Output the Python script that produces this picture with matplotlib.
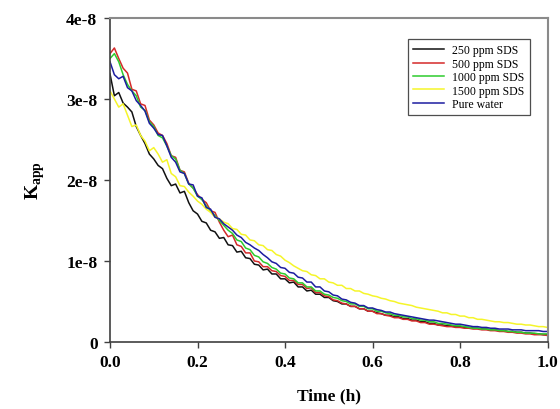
# Apparent rate constant vs time for SDS solutions and pure water

import matplotlib as mpl
mpl.use("Agg")
import matplotlib.pyplot as plt
from matplotlib.ticker import FuncFormatter, MultipleLocator
import numpy as np

mpl.rcParams.update({
    "font.family": "Liberation Serif",
    "mathtext.fontset": "custom",
    "mathtext.rm": "Liberation Serif",
    "mathtext.bf": "Liberation Serif:bold",
})

# time grid, h (step 0.01)
time_h = np.round(np.arange(0, 101) * 0.01, 2)

# K_app values in units of 1e-8
k_250 = [
    3.31, 3.04, 3.08, 2.95, 2.90, 2.84, 2.66, 2.55, 2.45, 2.32,
    2.26, 2.18, 2.14, 2.02, 1.93, 1.95, 1.84, 1.86, 1.72, 1.62,
    1.58, 1.49, 1.47, 1.38, 1.36, 1.28, 1.29, 1.20, 1.19, 1.11,
    1.12, 1.04, 1.03, 0.96, 0.95, 0.89, 0.90, 0.84, 0.84, 0.78,
    0.78, 0.73, 0.74, 0.68, 0.68, 0.63, 0.64, 0.59, 0.59, 0.55,
    0.55, 0.51, 0.50, 0.47, 0.47, 0.44, 0.44, 0.41, 0.41, 0.38,
    0.38, 0.36, 0.35, 0.33, 0.33, 0.31, 0.31, 0.29, 0.29, 0.27,
    0.27, 0.25, 0.25, 0.23, 0.23, 0.21, 0.21, 0.20, 0.20, 0.19,
    0.19, 0.18, 0.18, 0.17, 0.17, 0.16, 0.16, 0.15, 0.15, 0.14,
    0.14, 0.13, 0.13, 0.12, 0.12, 0.11, 0.11, 0.10, 0.10, 0.09,
    0.09,
]
k_500 = [
    3.56, 3.63, 3.50, 3.38, 3.32, 3.12, 3.10, 2.94, 2.92, 2.74,
    2.68, 2.58, 2.55, 2.45, 2.30, 2.28, 2.12, 2.10, 1.96, 1.90,
    1.82, 1.76, 1.72, 1.62, 1.60, 1.48, 1.38, 1.30, 1.32, 1.20,
    1.18, 1.10, 1.10, 1.00, 0.99, 0.93, 0.93, 0.88, 0.87, 0.82,
    0.81, 0.76, 0.76, 0.71, 0.71, 0.66, 0.67, 0.61, 0.61, 0.57,
    0.56, 0.52, 0.51, 0.48, 0.47, 0.44, 0.44, 0.41, 0.41, 0.38,
    0.38, 0.35, 0.35, 0.33, 0.32, 0.30, 0.30, 0.28, 0.28, 0.26,
    0.26, 0.24, 0.24, 0.22, 0.22, 0.21, 0.20, 0.19, 0.19, 0.18,
    0.18, 0.17, 0.17, 0.16, 0.16, 0.15, 0.15, 0.14, 0.14, 0.13,
    0.13, 0.12, 0.12, 0.11, 0.11, 0.10, 0.10, 0.09, 0.09, 0.09,
    0.08,
]
k_1000 = [
    3.50, 3.56, 3.46, 3.30, 3.18, 3.10, 3.04, 2.90, 2.86, 2.72,
    2.66, 2.55, 2.52, 2.42, 2.30, 2.26, 2.12, 2.08, 1.95, 1.90,
    1.80, 1.76, 1.68, 1.62, 1.56, 1.50, 1.44, 1.38, 1.34, 1.26,
    1.24, 1.16, 1.14, 1.07, 1.05, 0.99, 0.97, 0.92, 0.90, 0.85,
    0.84, 0.79, 0.78, 0.73, 0.73, 0.68, 0.68, 0.63, 0.63, 0.59,
    0.58, 0.55, 0.54, 0.51, 0.50, 0.47, 0.47, 0.44, 0.44, 0.41,
    0.41, 0.38, 0.38, 0.36, 0.35, 0.33, 0.33, 0.31, 0.31, 0.29,
    0.29, 0.27, 0.27, 0.25, 0.25, 0.23, 0.23, 0.22, 0.21, 0.20,
    0.20, 0.19, 0.18, 0.17, 0.17, 0.16, 0.16, 0.15, 0.15, 0.14,
    0.14, 0.13, 0.13, 0.12, 0.12, 0.11, 0.11, 0.11, 0.10, 0.10,
    0.10,
]
k_1500 = [
    3.10, 3.00, 2.90, 2.94, 2.80, 2.66, 2.68, 2.55, 2.48, 2.36,
    2.40, 2.32, 2.22, 2.25, 2.08, 2.04, 1.93, 1.92, 1.85, 1.80,
    1.74, 1.70, 1.64, 1.60, 1.54, 1.52, 1.48, 1.46, 1.40, 1.39,
    1.33, 1.32, 1.26, 1.25, 1.20, 1.19, 1.14, 1.13, 1.08, 1.06,
    1.01, 0.98, 0.94, 0.91, 0.88, 0.87, 0.83, 0.82, 0.78, 0.78,
    0.74, 0.73, 0.70, 0.70, 0.66, 0.66, 0.63, 0.63, 0.60, 0.59,
    0.57, 0.56, 0.54, 0.53, 0.51, 0.50, 0.48, 0.47, 0.46, 0.45,
    0.43, 0.42, 0.41, 0.40, 0.39, 0.38, 0.36, 0.36, 0.34, 0.34,
    0.32, 0.32, 0.30, 0.30, 0.28, 0.28, 0.27, 0.26, 0.25, 0.25,
    0.24, 0.24, 0.23, 0.22, 0.22, 0.21, 0.21, 0.20, 0.19, 0.19,
    0.18,
]
k_water = [
    3.46, 3.30, 3.25, 3.28, 3.14, 3.10, 2.98, 2.92, 2.85, 2.70,
    2.64, 2.56, 2.55, 2.42, 2.28, 2.22, 2.10, 2.08, 1.95, 1.94,
    1.80, 1.78, 1.66, 1.64, 1.54, 1.52, 1.46, 1.42, 1.38, 1.32,
    1.29, 1.23, 1.20, 1.16, 1.13, 1.08, 1.04, 0.99, 0.97, 0.92,
    0.91, 0.86, 0.85, 0.80, 0.79, 0.74, 0.74, 0.68, 0.68, 0.63,
    0.62, 0.58, 0.57, 0.53, 0.52, 0.49, 0.48, 0.45, 0.45, 0.42,
    0.42, 0.40, 0.39, 0.37, 0.37, 0.35, 0.34, 0.33, 0.32, 0.31,
    0.30, 0.29, 0.28, 0.27, 0.27, 0.26, 0.25, 0.24, 0.23, 0.22,
    0.22, 0.21, 0.20, 0.19, 0.19, 0.18, 0.18, 0.17, 0.17, 0.16,
    0.16, 0.16, 0.15, 0.15, 0.15, 0.14, 0.14, 0.14, 0.14, 0.13,
    0.13,
]

series = [
    ("250 ppm SDS", k_250, "#111111"),
    ("500 ppm SDS", k_500, "#d42a2a"),
    ("1000 ppm SDS", k_1000, "#2ecc2e"),
    ("1500 ppm SDS", k_1500, "#f5f52a"),
    ("Pure water", k_water, "#1c1ca0"),
]

fig = plt.figure(figsize=(5.6, 4.1), dpi=100)
ax = fig.add_axes([110 / 560, 1 - 343 / 410, 437.5 / 560, 324 / 410])

for label, vals, color in series:
    ax.plot(time_h, np.array(vals) * 1e-8, color=color, linewidth=1.1, label=label)

ax.set_xlim(0, 1.0)
ax.set_ylim(0, 4e-8)
ax.xaxis.set_major_locator(MultipleLocator(0.2))
ax.yaxis.set_major_locator(MultipleLocator(1e-8))
ax.xaxis.set_major_formatter(FuncFormatter(lambda x, p: f"{x:.1f}"))
ax.yaxis.set_major_formatter(
    FuncFormatter(lambda y, p: "0" if abs(y) < 1e-12 else f"{y / 1e-8:.0f}e-8"))

ax.tick_params(direction="out", length=4, width=1, color="#404040",
               labelsize=12.5, pad=5, top=False, right=False)
for lab in ax.get_xticklabels() + ax.get_yticklabels():
    lab.set_fontweight("bold")

for side in ["left", "bottom"]:
    ax.spines[side].set_color("#404040")
    ax.spines[side].set_linewidth(1.2)
for side in ["top", "right"]:
    ax.spines[side].set_color("#8a8a8a")
    ax.spines[side].set_linewidth(1.5)

ax.set_xlabel("Time (h)", fontsize=12.5, fontweight="bold", labelpad=12)
ax.set_ylabel(r"$\mathbf{K}_{\mathbf{app}}$", fontsize=14, labelpad=14)

leg = ax.legend(loc="upper right", bbox_to_anchor=(530 / 560, 1 - 40 / 410),
                bbox_transform=fig.transFigure, fontsize=8.5, frameon=True,
                fancybox=False, handlelength=2.6, handletextpad=0.7,
                borderpad=0.45, labelspacing=0.12, borderaxespad=0)
leg._legend_box.align = "left"
leg.get_frame().set_edgecolor("#222222")
leg.get_frame().set_linewidth(0.9)

fig.savefig("out.png", dpi=100)
